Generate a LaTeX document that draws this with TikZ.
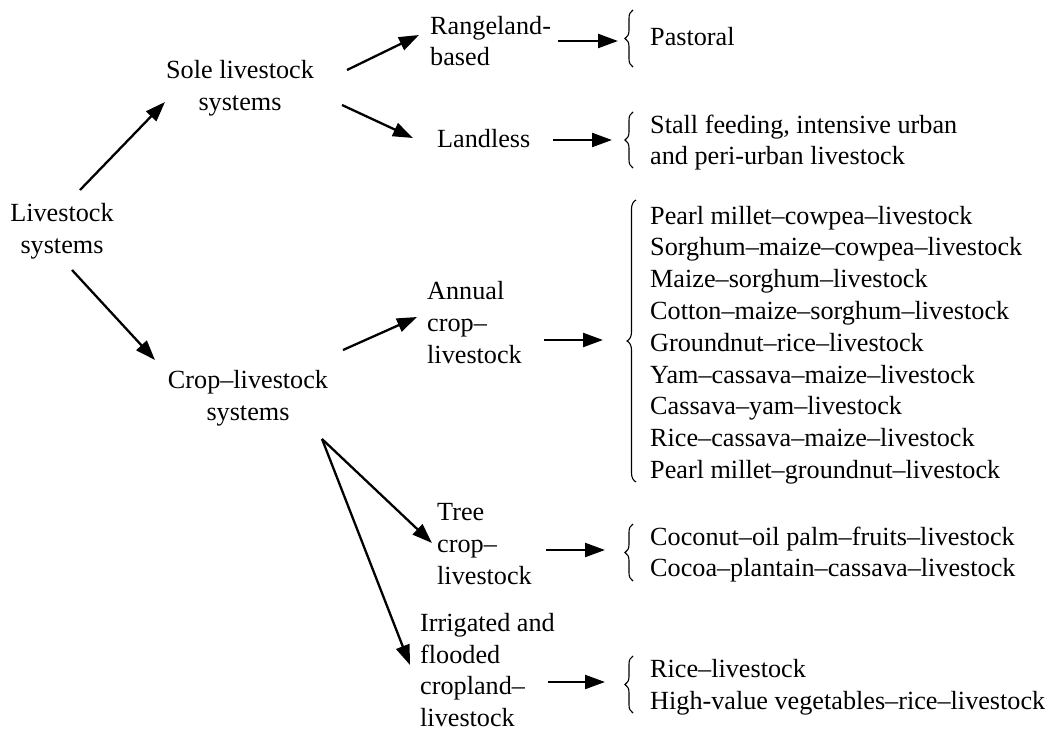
\documentclass[tikz,border=0pt]{standalone}
\usepackage{fontspec}
\setmainfont{Liberation Serif}
\usetikzlibrary{arrows.meta,decorations.pathreplacing,calc}
\begin{document}
\begin{tikzpicture}[x=1pt,y=-1pt,
  font=\fontsize{26.2}{31.8}\selectfont,
  txt/.style={inner sep=0pt, align=center},
  ltxt/.style={inner sep=0pt, align=left, anchor=west},
  arr/.style={-{Triangle[length=20pt,width=14pt]}, line width=2.3pt},
  brc/.style={decorate, decoration={brace, amplitude=8pt}, line width=1.1pt},
  bigbrc/.style={decorate, decoration={brace, amplitude=9pt}, line width=1.1pt}]
\useasboundingbox (0,0) rectangle (1053,733);

% nodes
\node[txt] (liv) at (62,231) {Livestock\\systems};
\node[txt] (sole) at (240,88) {Sole livestock\\systems};
\node[txt] (crop) at (248,398) {Crop--livestock\\systems};
\node[ltxt] (range) at (430,41) {Rangeland-\\based};
\node[ltxt] (landless) at (437,139) {Landless};
\node[ltxt] (annual) at (427,322.5) {Annual\\crop--\\livestock};
\node[ltxt] (tree) at (437,544) {Tree\\crop--\\livestock};
\node[ltxt] (irr) at (420,670) {Irrigated and\\flooded\\cropland--\\livestock};
\node[ltxt] (past) at (650,37) {Pastoral};
\node[ltxt] (stall) at (650,142.5) {Stall feeding, intensive urban\\and peri-urban livestock};
\node[ltxt] (list) at (650,345) {Pearl millet--cowpea--livestock\\
Sorghum--maize--cowpea--livestock\\
Maize--sorghum--livestock\\
Cotton--maize--sorghum--livestock\\
Groundnut--rice--livestock\\
Yam--cassava--maize--livestock\\
Cassava--yam--livestock\\
Rice--cassava--maize--livestock\\
Pearl millet--groundnut--livestock};
\node[ltxt] (treel) at (650,554.5) {Coconut--oil palm--fruits--livestock\\Cocoa--plantain--cassava--livestock};
\node[ltxt] (irrl) at (650,687) {Rice--livestock\\High-value vegetables--rice--livestock};

% arrows between systems
\draw[arr] ($(liv)+(18,-41)$) -- ($(sole)+(-75,14)$);
\draw[arr] ($(liv)+(10,39)$) -- ($(crop)+(-93,-38)$);
\draw[arr] ($(sole)+(107,-18)$) -- ($(range.west)+(-11,-6)$);
\draw[arr] ($(sole)+(102,17)$) -- ($(landless.west)+(-24,-1)$);
\draw[arr] ($(crop)+(95,-48)$) -- ($(annual.west)+(-10,-5.5)$);
\draw[arr] ($(crop)+(74,41)$) -- ($(tree.west)+(-5,-1)$);
\draw[arr] ($(crop)+(74,41)$) -- ($(irr.west)+(-10,-5)$);

% arrows to lists
\draw[arr] ($(range.west)+(128,0)$) -- ($(past.west)+(-32,4)$);
\draw[arr] ($(landless.west)+(116,1)$) -- ($(stall.west)+(-38,-2.5)$);
\draw[arr] ($(annual.west)+(117,17.5)$) -- ($(list.west)+(-47,-5)$);
\draw[arr] ($(tree.west)+(109,6)$) -- ($(treel.west)+(-45,-4.5)$);
\draw[arr] ($(irr.west)+(128,12)$) -- ($(irrl.west)+(-45,-5)$);

% braces
\draw[brc] ($(past.west)+(-17,30)$) -- ($(past.west)+(-17,-27)$);
\draw[brc] ($(stall.west)+(-17,25.5)$) -- ($(stall.west)+(-17,-30.5)$);
\draw[bigbrc] ($(list.west)+(-14,137)$) -- ($(list.west)+(-14,-145)$);
\draw[brc] ($(treel.west)+(-17,26.5)$) -- ($(treel.west)+(-17,-30.5)$);
\draw[brc] ($(irrl.west)+(-17,26)$) -- ($(irrl.west)+(-17,-31)$);
\end{tikzpicture}
\end{document}
